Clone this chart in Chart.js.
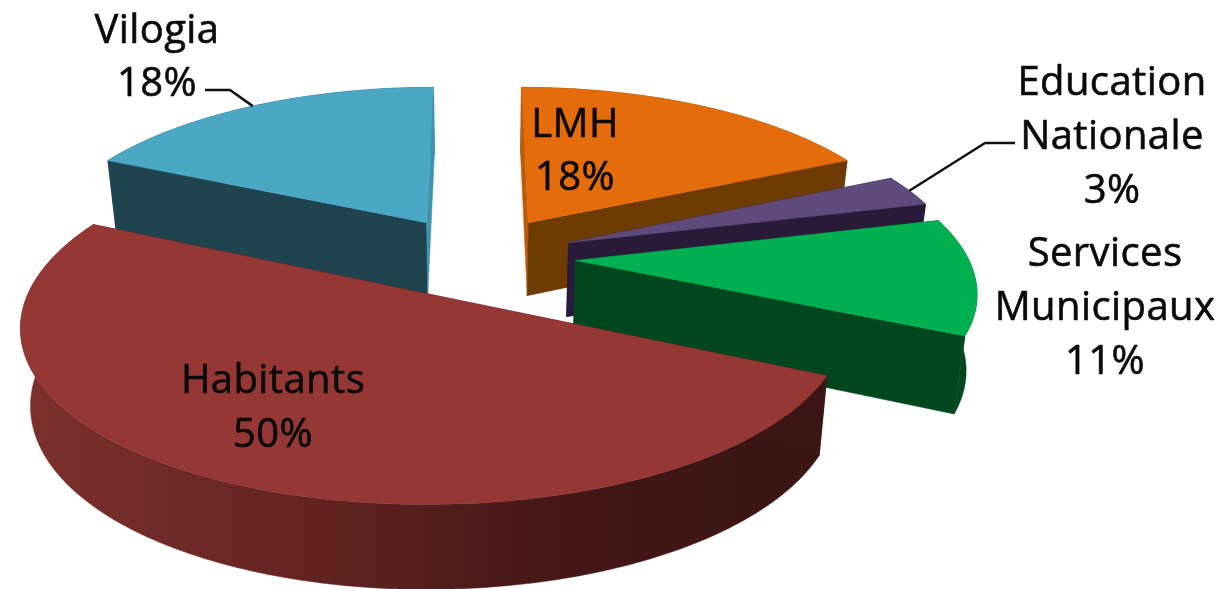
<!DOCTYPE html>
<html>
<head>
<meta charset="utf-8">
<title>Repartition</title>
<script src="https://cdn.jsdelivr.net/npm/chart.js@4"></script>
<style>
  html, body { margin: 0; padding: 0; background: #fff; }
  canvas { display: block; }
</style>
</head>
<body>
<canvas id="myChart" width="1228" height="589"></canvas>
<script>
const categories = ['LMH', 'Education Nationale', 'Services Municipaux', 'Habitants', 'Vilogia'];
const shares = [18, 3, 11, 50, 18];
const labelLines = [['LMH'], ['Education', 'Nationale'], ['Services', 'Municipaux'], ['Habitants'], ['Vilogia']];

const topColors = ['#e46c0a', '#604a7b', '#00b050', '#953735', '#4aa8c4'];
const wallColors = ['#6f3b04', '#2a1a3a', '#00471f', '#3c1614', '#20444f'];
// the two cut faces of each slice, start and end
const cutColors = [['#bd5c08', '#6f3b04'], ['#2a1a3a', '#2a1a3a'], ['#00471f', '#00471f'], ['#3c1614', '#3c1614'], ['#20444f', '#3f93ad']];

// label layout: centre x, first baseline, line gap, font size
const labelPos = [
  { x: 575, y: 137, gap: 53, size: 40 },
  { x: 1112, y: 95, gap: 54, size: 40 },
  { x: 1105, y: 266, gap: 54, size: 40 },
  { x: 273, y: 393, gap: 54, size: 40 },
  { x: 157, y: 43, gap: 53, size: 40 }
];
// elbow and end of the leader lines, slice index -> points
const leaders = { 4: [[230, 90], [205, 90]], 1: [[985, 143], [1015, 143]] };

// painter order, back to front
const drawOrder = [4, 0, 1, 2, 3];

// projection of the pie plane on the page
const view = { cx: 477.5, cy: 256.5, sx: 392, sy: 165, tiltX: 0.16, tiltY: 0.15, tiltZ: 0.1, depth: 74.5, shrink: 0.022 };

function project(u, v, z) {
  return {
    x: view.cx + view.sx * u / (1 - view.tiltX * v) * (1 - view.shrink * z),
    y: view.cy + view.sy * v / (1 - view.tiltY * v) + view.depth * z / (1 - view.tiltZ * v)
  };
}

function sliceGeom(arc) {
  const p = arc.getProps(['startAngle', 'endAngle', 'outerRadius']);
  const mid = (p.startAngle + p.endAngle) / 2;
  const o = arc.options.offset / p.outerRadius;
  return { start: p.startAngle, end: p.endAngle, mid: mid, ou: o * Math.cos(mid), ov: o * Math.sin(mid) };
}

function rimPoints(g, z) {
  const pts = [];
  const n = Math.ceil((g.end - g.start) / 0.01);
  for (let i = 0; i <= n; i++) {
    const a = g.start + (g.end - g.start) * i / n;
    pts.push(project(g.ou + Math.cos(a), g.ov + Math.sin(a), z));
  }
  return pts;
}

function fillPoly(ctx, pts, fill) {
  ctx.beginPath();
  pts.forEach((p, i) => i ? ctx.lineTo(p.x, p.y) : ctx.moveTo(p.x, p.y));
  ctx.closePath();
  ctx.fillStyle = fill;
  ctx.fill();
  ctx.strokeStyle = fill;
  ctx.lineWidth = 0.5;
  ctx.stroke();
}

const pie3d = {
  id: 'pie3d',
  beforeDatasetsDraw(chart) {
    const ctx = chart.ctx;
    const arcs = chart.getDatasetMeta(0).data;

    drawOrder.forEach(i => {
      const g = sliceGeom(arcs[i]);
      const top = rimPoints(g, 0);
      const bot = rimPoints(g, 1);
      const apexTop = project(g.ou, g.ov, 0);
      const apexBot = project(g.ou, g.ov, 1);

      let wall = wallColors[i];
      if (categories[i] === 'Habitants') {
        wall = ctx.createLinearGradient(20, 0, 820, 0);
        wall.addColorStop(0, '#7c302d');
        wall.addColorStop(0.32, '#662522');
        wall.addColorStop(0.68, '#431716');
        wall.addColorStop(1, '#3a1512');
      }
      fillPoly(ctx, top.concat(bot.slice().reverse()), wall);
      fillPoly(ctx, [apexTop, top[0], bot[0], apexBot], cutColors[i][0]);
      fillPoly(ctx, [apexTop, top[top.length - 1], bot[bot.length - 1], apexBot], cutColors[i][1]);
      fillPoly(ctx, [apexTop].concat(top), topColors[i]);
    });
    return false;
  },
  afterDraw(chart) {
    const ctx = chart.ctx;
    const arcs = chart.getDatasetMeta(0).data;

    ctx.strokeStyle = '#111';
    ctx.lineWidth = 2.5;
    ctx.lineJoin = 'round';
    Object.keys(leaders).forEach(i => {
      const g = sliceGeom(arcs[i]);
      const a = project(g.ou + Math.cos(g.mid), g.ov + Math.sin(g.mid), 0);
      ctx.beginPath();
      ctx.moveTo(a.x, a.y);
      leaders[i].forEach(p => ctx.lineTo(p[0], p[1]));
      ctx.stroke();
    });

    ctx.fillStyle = '#0a0a0a';
    ctx.strokeStyle = '#0a0a0a';
    ctx.lineWidth = 0.6;
    ctx.textAlign = 'center';
    ctx.textBaseline = 'alphabetic';
    ctx.letterSpacing = '0.4px';
    categories.forEach((c, i) => {
      const pos = labelPos[i];
      ctx.font = pos.size + 'px "Open Sans"';
      labelLines[i].concat([shares[i] + '%']).forEach((t, k) => {
        ctx.fillText(t, pos.x, pos.y + k * pos.gap);
        ctx.strokeText(t, pos.x, pos.y + k * pos.gap);
      });
    });
  }
};

new Chart(document.getElementById('myChart'), {
  type: 'pie',
  data: {
    labels: categories,
    datasets: [{ data: shares, backgroundColor: topColors, borderWidth: 0, offset: 65.5 }]
  },
  options: {
    responsive: false,
    animation: false,
    plugins: { legend: { display: false }, tooltip: { enabled: false } }
  },
  plugins: [pie3d]
});
</script>
</body>
</html>
